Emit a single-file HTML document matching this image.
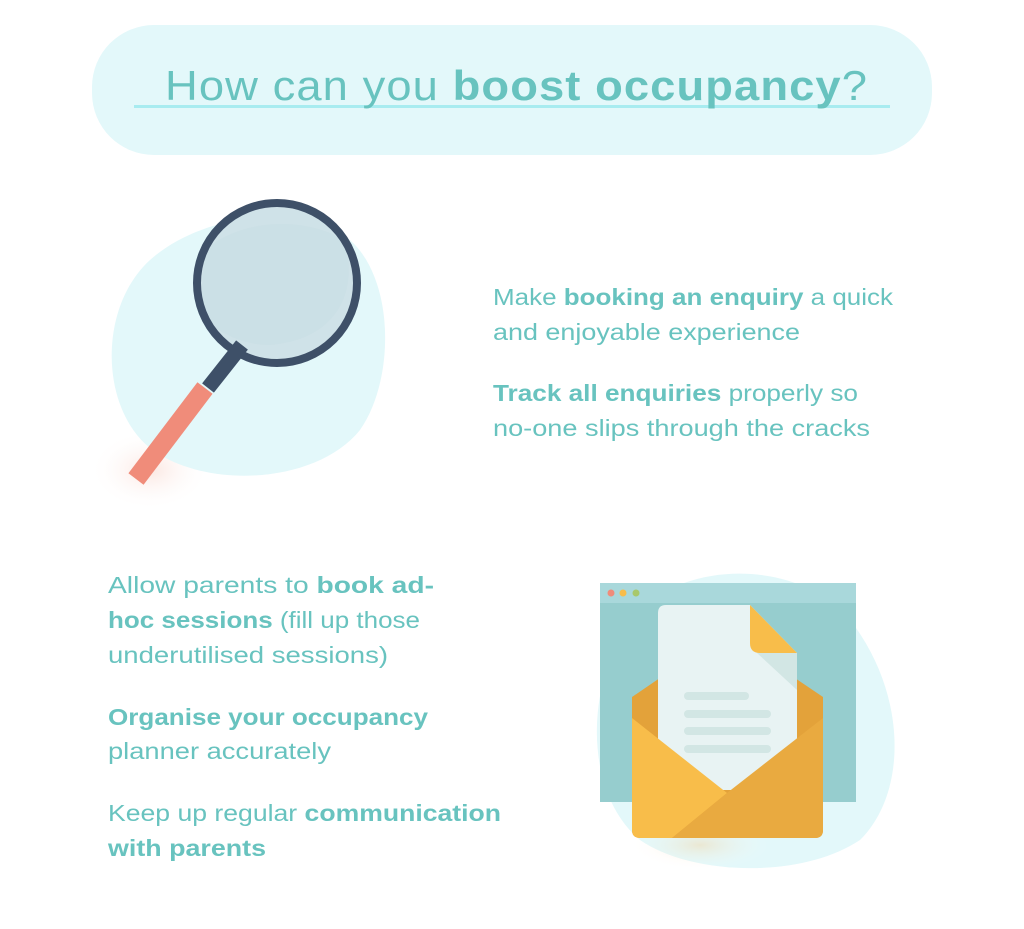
<!DOCTYPE html>
<html><head><meta charset="utf-8"><style>
html,body{margin:0;padding:0;background:#fff;}
svg{display:block;}
text{font-family:"Liberation Sans",sans-serif;fill:#68c3bf;}
.b{font-weight:bold;}
</style></head><body>
<svg width="1024" height="929" viewBox="0 0 1024 929" xmlns="http://www.w3.org/2000/svg">
<defs>
<radialGradient id="sh" cx="50%" cy="50%" r="50%"><stop offset="0" stop-color="#f3b8a8" stop-opacity="0.35"/><stop offset="1" stop-color="#fff" stop-opacity="0"/></radialGradient>
<radialGradient id="sh2" cx="50%" cy="50%" r="50%"><stop offset="0" stop-color="#f7c98a" stop-opacity="0.35"/><stop offset="1" stop-color="#fff" stop-opacity="0"/></radialGradient>
</defs>
<!-- header -->
<rect x="92" y="25" width="840" height="130" rx="62" fill="#e3f8fa"/>
<rect x="134" y="105" width="756" height="3" fill="#a8ecf0"/>
<text x="165" y="100" font-size="42" textLength="703" lengthAdjust="spacingAndGlyphs" style="letter-spacing:1px">How can you <tspan class="b">boost occupancy</tspan>?</text>

<!-- magnifier -->
<ellipse cx="150" cy="470" rx="60" ry="40" fill="url(#sh)"/>
<path d="M150 260 C200 215 300 200 350 240 C395 280 395 380 360 430 C320 480 220 490 160 455 C100 420 95 310 150 260 Z" fill="#e3f8fa"/>
<circle cx="277" cy="283" r="80" fill="#cfe2e8"/>
<path d="M205 250 C240 220 300 215 345 240 C360 300 330 340 270 345 C240 345 215 330 200 315 Z" fill="#c8dde3" opacity="0.5"/>
<line x1="242" y1="345" x2="208" y2="388" stroke="#3e5068" stroke-width="15"/>
<line x1="205" y1="388" x2="136" y2="479" stroke="#f08c7a" stroke-width="19"/>
<circle cx="277" cy="283" r="80" fill="none" stroke="#3e5068" stroke-width="8"/>

<!-- right text -->
<text x="493" y="305" font-size="23" textLength="400" lengthAdjust="spacingAndGlyphs">Make <tspan class="b">booking an enquiry</tspan> a quick</text>
<text x="493" y="340" font-size="23" textLength="307" lengthAdjust="spacingAndGlyphs">and enjoyable experience</text>
<text x="493" y="401" font-size="23" textLength="365" lengthAdjust="spacingAndGlyphs"><tspan class="b">Track all enquiries</tspan> properly so</text>
<text x="493" y="436" font-size="23" textLength="377" lengthAdjust="spacingAndGlyphs">no-one slips through the cracks</text>

<!-- left text -->
<text x="108" y="593" font-size="23" textLength="326" lengthAdjust="spacingAndGlyphs">Allow parents to <tspan class="b">book ad-</tspan></text>
<text x="108" y="628" font-size="23" textLength="312" lengthAdjust="spacingAndGlyphs"><tspan class="b">hoc sessions</tspan> (fill up those</text>
<text x="108" y="663" font-size="23" textLength="280" lengthAdjust="spacingAndGlyphs">underutilised sessions)</text>
<text x="108" y="725" font-size="23" textLength="320" lengthAdjust="spacingAndGlyphs" class="b">Organise your occupancy</text>
<text x="108" y="759" font-size="23" textLength="223" lengthAdjust="spacingAndGlyphs">planner accurately</text>
<text x="108" y="821" font-size="23" textLength="393" lengthAdjust="spacingAndGlyphs">Keep up regular <tspan class="b">communication</tspan></text>
<text x="108" y="856" font-size="23" textLength="158" lengthAdjust="spacingAndGlyphs" class="b">with parents</text>

<!-- envelope illustration -->
<path d="M640 610 C690 560 800 560 850 620 C905 690 910 790 860 840 C800 880 690 875 640 840 C580 790 585 670 640 610 Z" fill="#e3f8fa"/>
<ellipse cx="700" cy="845" rx="70" ry="25" fill="url(#sh2)"/>
<rect x="600" y="583" width="256" height="219" fill="#96cdce"/>
<rect x="600" y="583" width="256" height="20" fill="#a9d8db"/>
<circle cx="611" cy="593" r="3.5" fill="#f08c7a"/>
<circle cx="623" cy="593" r="3.5" fill="#f8bd4a"/>
<circle cx="636" cy="593" r="3.5" fill="#a8c86a"/>
<path d="M632 697 L727 632 L823 697 L823 830 Q823 838 815 838 L640 838 Q632 838 632 830 Z" fill="#e3a23a"/>
<path d="M666 605 L750 605 L797 653 L797 790 L658 790 L658 613 Q658 605 666 605 Z" fill="#e8f3f3"/>
<path d="M750 605 L797 653 L760 653 Q750 653 750 643 Z" fill="#f8bd4a"/>
<path d="M757 653 L797 653 L797 690 Z" fill="#d2e6e4"/>
<rect x="684" y="692" width="65" height="8" rx="4" fill="#d2e6e4"/>
<rect x="684" y="710" width="87" height="8" rx="4" fill="#d2e6e4"/>
<rect x="684" y="727" width="87" height="8" rx="4" fill="#d2e6e4"/>
<rect x="684" y="745" width="87" height="8" rx="4" fill="#d2e6e4"/>
<path d="M632 718 L727 793 L672 838 L640 838 Q632 838 632 830 Z" fill="#f8bd4a"/>
<path d="M823 718 L823 830 Q823 838 815 838 L672 838 L727 793 Z" fill="#e9aa40"/>
</svg>
</body></html>
